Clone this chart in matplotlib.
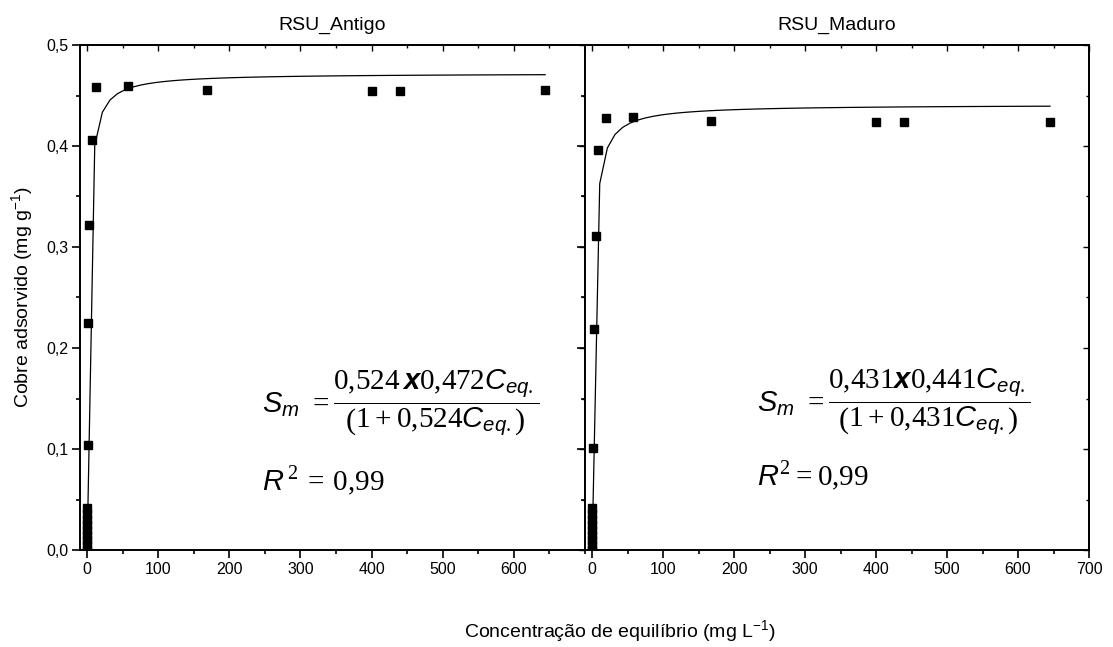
import numpy as np
import matplotlib
matplotlib.use("Agg")
import matplotlib.pyplot as plt
from matplotlib.ticker import MultipleLocator, FixedLocator

plt.rcParams['font.family'] = ['Liberation Sans', 'DejaVu Sans']
plt.rcParams['mathtext.fontset'] = 'custom'
plt.rcParams['mathtext.rm'] = 'Liberation Serif'
plt.rcParams['mathtext.it'] = 'Liberation Sans:italic'
plt.rcParams['mathtext.bf'] = 'Liberation Sans:italic:bold'
plt.rcParams['mathtext.sf'] = 'Liberation Sans'

# Measured adsorption points (Ceq in mg/L, adsorbed copper in mg/g)
antigo_x = [0.3, 0.3, 0.3, 0.3, 0.3, 0.3, 0.3, 0.3, 0.3, 0.6, 1.5, 3.3, 6.6, 12.5, 58, 168, 400, 440, 644]
antigo_y = [0.000, 0.005, 0.010, 0.015, 0.020, 0.025, 0.030, 0.036, 0.042, 0.104, 0.225, 0.322, 0.406,
            0.458, 0.459, 0.455, 0.454, 0.454, 0.455]

maduro_x = [0.3, 0.3, 0.3, 0.3, 0.3, 0.3, 0.3, 0.3, 0.3, 1.0, 2.5, 5.6, 8.6, 19.6, 58, 167, 400, 440, 645]
maduro_y = [0.000, 0.005, 0.010, 0.015, 0.020, 0.025, 0.030, 0.036, 0.042, 0.101, 0.219, 0.311, 0.396,
            0.428, 0.429, 0.425, 0.424, 0.424, 0.424]

# Langmuir fit parameters (K, Smax)
antigo_k, antigo_smax = 0.524, 0.472
maduro_k, maduro_smax = 0.431, 0.441

panel_titles = ["RSU_Antigo", "RSU_Maduro"]
y_ticks = [0.0, 0.1, 0.2, 0.3, 0.4, 0.5]
y_tick_labels = ["0,0", "0,1", "0,2", "0,3", "0,4", "0,5"]
left_x_ticks = [0, 100, 200, 300, 400, 500, 600]
right_x_ticks = [0, 100, 200, 300, 400, 500, 600, 700]

W, H = 1113, 647
fig = plt.figure(figsize=(W / 100, H / 100), dpi=100)
ax_l = fig.add_axes([80 / W, 97 / H, 505 / W, 505 / H])
ax_r = fig.add_axes([585 / W, 97 / H, 504 / W, 505 / H])

def langmuir(c, k, smax):
    return k * smax * c / (1 + k * c)

panels = [
    (ax_l, antigo_x, antigo_y, antigo_k, antigo_smax, left_x_ticks),
    (ax_r, maduro_x, maduro_y, maduro_k, maduro_smax, right_x_ticks),
]

for i, (ax, xs, ys, k, smax, xt) in enumerate(panels):
    c = np.linspace(0, max(xs), 61)
    ax.plot(c, langmuir(c, k, smax), color='black', lw=0.9, zorder=2)
    ax.plot(xs, ys, ls='none', marker='s', ms=6.3, color='black', zorder=3)
    ax.set_xlim(-10, 700)
    ax.set_ylim(0, 0.5)
    ax.xaxis.set_major_locator(FixedLocator(xt))
    ax.xaxis.set_minor_locator(MultipleLocator(50))
    ax.yaxis.set_major_locator(FixedLocator(y_ticks))
    ax.yaxis.set_minor_locator(MultipleLocator(0.05))
    ax.set_xticklabels([str(v) for v in xt])
    for sp in ax.spines.values():
        sp.set_linewidth(1.4)
    ax.tick_params(axis='both', which='both', direction='out', width=1.2, labelsize=11.5,
                   top=False, right=False)
    ax.tick_params(which='major', length=5.5)
    ax.tick_params(which='minor', length=2.8)
    ax.tick_params(axis='x', pad=3.5)
    ax.tick_params(axis='y', pad=3)
    ax.set_title(panel_titles[i], fontsize=14, pad=11)
    if i == 0:
        ax.set_yticklabels(y_tick_labels)
    else:
        ax.set_yticklabels([])

    # Mirror ticks pointing inward on the top and right edges
    top = ax.secondary_xaxis('top')
    top.xaxis.set_major_locator(FixedLocator(xt))
    top.xaxis.set_minor_locator(MultipleLocator(50))
    top.tick_params(which='both', direction='in', width=1.0, labeltop=False)
    top.tick_params(which='major', length=4)
    top.tick_params(which='minor', length=2.5)
    top.spines['top'].set_linewidth(1.4)
    rgt = ax.secondary_yaxis('right')
    rgt.yaxis.set_major_locator(FixedLocator(y_ticks))
    rgt.yaxis.set_minor_locator(MultipleLocator(0.05))
    rgt.tick_params(which='both', direction='in', width=1.0, labelright=False)
    rgt.tick_params(which='major', length=4)
    rgt.tick_params(which='minor', length=2.5)
    rgt.spines['right'].set_linewidth(1.4)

eq_l = (r'$S_m\ = \dfrac{0{,}524\,\mathbf{x}0{,}472C_{eq.}}'
        r'{\left(1+0{,}524C_{eq.}\right)}$')
eq_r = (r'$S_m\ = \dfrac{0{,}431\mathbf{x}0{,}441C_{eq.}}'
        r'{\left(1+0{,}431C_{eq.}\right)}$')
ax_l.text(246, 0.146, eq_l, fontsize=21, va='center', ha='left')
ax_l.text(246, 0.068, r'$R^{\,2}\,=\,0{,}99$', fontsize=21, va='center', ha='left')
ax_r.text(233, 0.147, eq_r, fontsize=21, va='center', ha='left')
ax_r.text(233, 0.073, r'$R^2=0{,}99$', fontsize=21, va='center', ha='left')

fig.text(22 / W, 1 - 297 / H, r'Cobre adsorvido (mg g$^{\mathsf{-1}}$)', rotation=90,
         ha='center', va='center', fontsize=14)
fig.text(620 / W, 1 - 631 / H, r'Concentração de equilíbrio (mg L$^{\mathsf{-1}}$)',
         ha='center', va='center', fontsize=14)

fig.savefig("out.png", dpi=100)
